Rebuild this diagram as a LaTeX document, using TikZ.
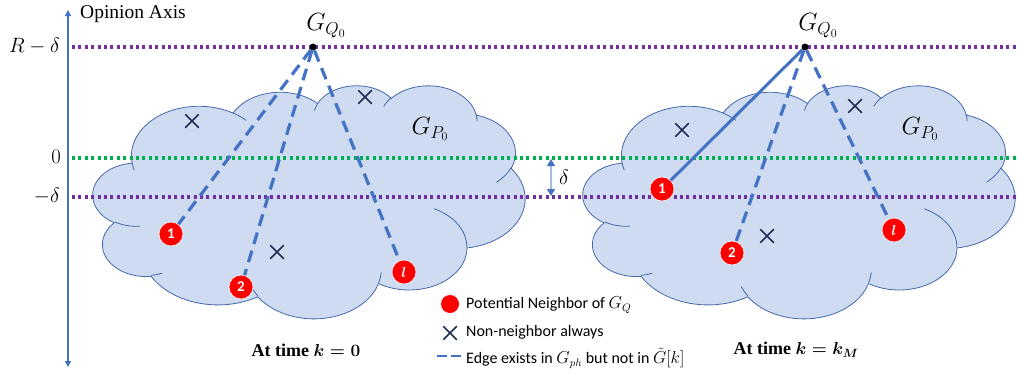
\documentclass[tikz,border=0pt]{standalone}
\usepackage{amsmath,bm}
\usepackage{fontspec}
\setmainfont{Liberation Serif}
\newfontfamily\legfont{Carlito}
\usetikzlibrary{arrows.meta,shapes.misc}
\definecolor{pptblue}{RGB}{68,114,196}
\definecolor{cloudfill}{RGB}{206,219,240}
\definecolor{cloudline}{RGB}{70,105,170}
\definecolor{ppurple}{RGB}{112,48,160}
\definecolor{pgreen}{RGB}{0,176,80}
\definecolor{xnavy}{RGB}{31,45,85}
\definecolor{dlight}{RGB}{165,188,226}

% arc with DrawingML-style (visual) angles
\newcommand\mkarc[5]{%
 \pgfmathsetmacro\tmpS{atan2((#2)*sin(#4),(#3)*cos(#4))}%
 \pgfmathsetmacro\tmpE{atan2((#2)*sin((#4)+(#5)),(#3)*cos((#4)+(#5)))}%
 \pgfmathsetmacro\tmpD{\tmpE-\tmpS}%
 \pgfmathsetmacro\tmpD{\tmpD+360*((#5)>0)*(\tmpD<0)-360*((#5)<0)*(\tmpD>0)}%
 \edef\tmpX{\noexpand\tikzset{#1/.style={start angle=\tmpS,delta angle=\tmpD,x radius=#2,y radius=#3}}}\tmpX}
\mkarc{cAa}{67.53}{91.90}{-190.48748}{123.78053}
\mkarc{cAb}{53.33}{72.67}{-144.10238}{89.94523}
\mkarc{cAc}{43.65}{59.45}{-145.80792}{99.72302}
\mkarc{cAd}{48.57}{65.95}{-130.98607}{117.24173}
\mkarc{cAe}{53.33}{72.73}{-78.70888}{109.02692}
\mkarc{cAf}{67.75}{92.20}{-46.26725}{130.269}
\mkarc{cAg}{57.85}{78.67}{0.62502}{114.03333}
\mkarc{cAh}{67.52}{92.15}{22.4516}{115.17255}
\mkarc{cAi}{77.20}{105.43}{66.24263}{75.71102}
\mkarc{cAj}{43.60}{59.18}{-274.94208}{146.73557}
\mkarc{cAk}{43.45}{59.45}{-246.8285}{152.51885}
\mkarc{cBa}{43.45}{59.45}{86.742}{26.4295}
\mkarc{cBb}{43.60}{59.18}{73.61047}{11.44747}
\mkarc{cBc}{67.52}{92.15}{137.62415}{14.0811}
\mkarc{cBd}{67.52}{92.15}{6.45327}{15.99835}
\mkarc{cBe}{57.85}{78.67}{-70.29235}{70.91737}
\mkarc{cBf}{53.33}{72.73}{30.31803}{27.7515}
\mkarc{cBg}{48.57}{65.95}{-13.74433}{14.8589}
\mkarc{cBh}{48.57}{65.95}{-149.18145}{18.19537}
\mkarc{cBi}{43.65}{59.45}{-163.49427}{17.68635}
\mkarc{cBj}{67.53}{91.90}{-66.70695}{12.31935}
\mkarc{cBk}{67.53}{91.90}{157.65435}{11.85817}

\tikzset{
 cloudbody/.style={fill=cloudfill, draw=cloudline, line width=0.8pt},
 cloudinner/.style={draw=cloudline, line width=0.8pt},
 nbr/.style={circle, fill=red, draw=white, line width=0.6pt, minimum size=24pt, inner sep=0pt, text=white, font=\legfont\bfseries\fontsize{15}{15}\selectfont},
 lgdot/.style={circle, fill=red, minimum size=18pt, inner sep=0pt},
 qdot/.style={circle, fill=black, minimum size=7pt, inner sep=0pt},
 xmark/.style={cross out, draw=xnavy, line width=1.5pt, minimum size=12pt, inner sep=0pt},
 edgeD/.style={pptblue, line width=3.2pt, dash pattern=on 12pt off 7pt},
 edgeS/.style={pptblue, line width=3pt},
 dotP/.style={ppurple, line width=3.2pt, dash pattern=on 3pt off 3.4pt},
 dotG/.style={pgreen, line width=3.2pt, dash pattern=on 3pt off 3.4pt},
 axisline/.style={pptblue, line width=2pt, arrows={Triangle[length=6pt,width=6pt]-Triangle[length=6pt,width=6pt]}},
 darrow/.style={dlight, line width=1.2pt, arrows={Triangle[length=7pt,width=8pt,color=pptblue]-Triangle[length=7pt,width=8pt,color=pptblue]}},
 mathlbl/.style={font=\fontsize{21}{24}\selectfont},
 glbl/.style={font=\fontsize{24}{26}\selectfont},
 leg/.style={anchor=west, inner sep=1pt, font=\legfont\fontsize{16}{18}\selectfont},
 title/.style={inner sep=1pt, font=\bfseries\fontsize{18}{22}\selectfont\boldmath}
}

\newcommand\cloudshape{%
 \path[cloudbody] (39.00,143.70) arc[cAa] arc[cAb] arc[cAc] arc[cAd] arc[cAe] arc[cAf] arc[cAg] arc[cAh] arc[cAi] arc[cAj] arc[cAk] -- cycle;
 \path[cloudinner] (46.93,261.77) arc[cBa] (69.28,348.99) arc[cBb] (164.78,390.90) arc[cBc] (288.27,347.51) arc[cBd] (341.29,229.54) arc[cBe] (417.98,153.54) arc[cBf] (383.24,54.26) arc[cBg] (290.78,39.52) arc[cBh] (221.41,47.20) arc[cBi] (140.00,51.92) arc[cBj] (41.27,157.89) arc[cBk];
}

\begin{document}
\begin{tikzpicture}[x=1pt,y=-1pt]
\useasboundingbox (0,0) rectangle (1018,375);

% clouds
\begin{scope}[shift={(93pt,-85pt)}, x=1pt, y=-0.5394pt] \cloudshape \end{scope}
\begin{scope}[shift={(583pt,-85pt)}, x=1pt, y=-0.5394pt] \cloudshape \end{scope}

% axis
\coordinate (axTop) at (68,10);
\coordinate (axBot) at (68,367);
\draw[axisline] (axBot) -- (axTop);
\node[anchor=west, inner sep=1pt, font=\fontsize{19.5}{20}\selectfont] (axlbl) at (79,14) {Opinion Axis};

% level lines
\coordinate (pTa) at (72,47);  \coordinate (pTb) at (1018,47);
\coordinate (gZa) at (72,158); \coordinate (gZb) at (1018,158);
\coordinate (pBa) at (72,197); \coordinate (pBb) at (1018,197);
\draw[dotP] (pTa) -- (pTb);
\draw[dotG] (gZa) -- (gZb);
\draw[dotP] (pBa) -- (pBb);
\node[mathlbl, anchor=east, inner sep=1pt] (lRd) at (61,46) {$R-\delta$};
\node[mathlbl, anchor=east, inner sep=1pt] (lZ) at (62,157) {$0$};
\node[mathlbl, anchor=east, inner sep=1pt] (lmd) at (61,196) {$-\delta$};

% delta arrow
\coordinate (dA) at (551,159);
\coordinate (dB) at (551,196);
\draw[darrow] (dA) -- (dB);
\node[mathlbl] (dl) at (564,177) {$\delta$};

% ---- left panel ----
\node[qdot] (QL) at (313,47) {};
\node[glbl] (gqL) at (326,26) {$G_{Q_0}$};
\node[glbl] (gpL) at (430,129) {$G_{P_0}$};
\node[xmark] (xL1) at (192,121) {};
\node[xmark] (xL2) at (365,97) {};
\node[xmark] (xL3) at (277,252) {};
\node[nbr] (L1) at (171,234) {1};
\node[nbr] (L2) at (241,287) {2};
\node[nbr] (Ll) at (404,272) {$\bm{l}$};
\draw[edgeD] (QL) -- (L1);
\draw[edgeD] (QL) -- (L2);
\draw[edgeD] (QL) -- (Ll);
\node[title] (tL) at (306,350) {At time $k=0$};

% ---- right panel ----
\node[qdot] (QR) at (805,47) {};
\node[glbl] (gqR) at (818,26) {$G_{Q_0}$};
\node[glbl] (gpR) at (920,129) {$G_{P_0}$};
\node[xmark] (xR1) at (682,130) {};
\node[xmark] (xR2) at (855,106) {};
\node[xmark] (xR3) at (767,236) {};
\node[nbr] (R1) at (662,189) {1};
\node[nbr] (R2) at (732,253) {2};
\node[nbr] (Rl) at (894,230) {$\bm{l}$};
\draw[edgeS] (QR) -- (R1);
\draw[edgeD] (QR) -- (R2);
\draw[edgeD] (QR) -- (Rl);
\node[title] (tR) at (796,350) {At time $k=k_M$};

% ---- legend ----
\node[lgdot] (lg1) at (450,304) {};
\node[leg] (lt1) at (465,305) {Potential Neighbor of $G_Q$};
\node[xmark] (lg2) at (450,333) {};
\node[leg] (lt2) at (465,332) {Non-neighbor always};
\coordinate (lgA) at (437,356);
\coordinate (lgB) at (461,356);
\draw[pptblue, line width=2.8pt, dash pattern=on 10pt off 4pt] (lgA) -- (lgB);
\node[leg] (lt3) at (465,358) {Edge exists in $G_{ph}$ but not in $\tilde{G}[k]$};
\end{tikzpicture}
\end{document}
